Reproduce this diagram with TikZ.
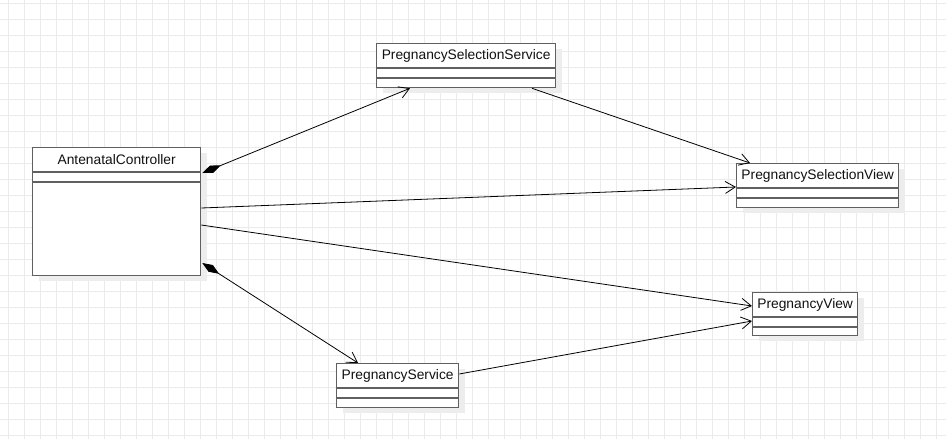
\documentclass[tikz,border=0pt]{standalone}
\usepackage{fontspec}
\setmainfont{Liberation Sans}
\usetikzlibrary{arrows.meta,calc}
\definecolor{gridc}{HTML}{EBEBEB}
\definecolor{shadowc}{HTML}{EDEDED}
\definecolor{borderc}{HTML}{606060}
\definecolor{textc}{HTML}{111111}
\tikzset{
  classbox/.style={draw=borderc, line width=1.3pt, fill=white, inner sep=0pt, anchor=north west},
  shadowbox/.style={fill=shadowc, draw=none, inner sep=0pt, anchor=north west},
  classtitle/.style={anchor=north, inner sep=0pt, minimum height=25pt, text=textc, font=\fontsize{13.8}{16}\selectfont},
  sepline/.style={draw=borderc, line width=1.3pt},
  assoc/.style={draw=black, line width=0.8pt, -{Straight Barb[length=10pt,width=12pt,line width=0.8pt]}},
  compo/.style={draw=black, line width=0.8pt, {Diamond[length=20pt,width=8pt,fill=black]}-{Straight Barb[length=10pt,width=12pt,line width=0.8pt]}}
}
% \umlclass{name}{x}{y}{w}{h}{title}
\newcommand{\umlclass}[6]{%
  \node[shadowbox, minimum width=#4pt, minimum height=#5pt] (#1-sh) at (#2+7,#3+6) {};
  \node[classbox, minimum width=#4pt, minimum height=#5pt] (#1) at (#2,#3) {};
  \node[classtitle] (#1-t) at (#1.north) {#6};
  \draw[sepline] ([yshift=-25pt]#1.north west) -- ([yshift=-25pt]#1.north east);
  \draw[sepline] ([yshift=-35pt]#1.north west) -- ([yshift=-35pt]#1.north east);
}
\begin{document}
\begin{tikzpicture}[x=1pt,y=-1pt]
\useasboundingbox (0,0) rectangle (946,439);
\fill[white] (0,0) rectangle (946,439);
\foreach \gx in {8,24,...,946} \draw[gridc, line width=0.8pt] (\gx,0) -- (\gx,439);
\foreach \gy in {3,19,...,439} \draw[gridc, line width=0.8pt] (0,\gy) -- (946,\gy);

\umlclass{ac}{32}{147}{168}{128}{AntenatalController}
\umlclass{pss}{376}{43}{179}{44}{PregnancySelectionService}
\umlclass{psv}{736}{163}{162}{44}{PregnancySelectionView}
\umlclass{pv}{752}{292}{105}{43}{PregnancyView}
\umlclass{ps}{336}{363}{122}{44}{PregnancyService}

\draw[compo] ($(ac.north east)+(1,26)$) -- ($(pss.south west)+(34,0)$);
\draw[assoc] ($(pss.south west)+(156,0)$) -- ($(psv.north west)+(14,0)$);
\draw[assoc] ($(ac.north east)+(0,61)$) -- ($(psv.north west)+(0,24)$);
\draw[assoc] ($(ac.north east)+(0,78)$) -- ($(pv.north west)+(0,14)$);
\draw[compo] ($(ac.north east)+(1,116)$) -- ($(ps.north west)+(22,0)$);
\draw[assoc] ($(ps.north east)+(0,11)$) -- ($(pv.north west)+(0,29)$);
\end{tikzpicture}
\end{document}
